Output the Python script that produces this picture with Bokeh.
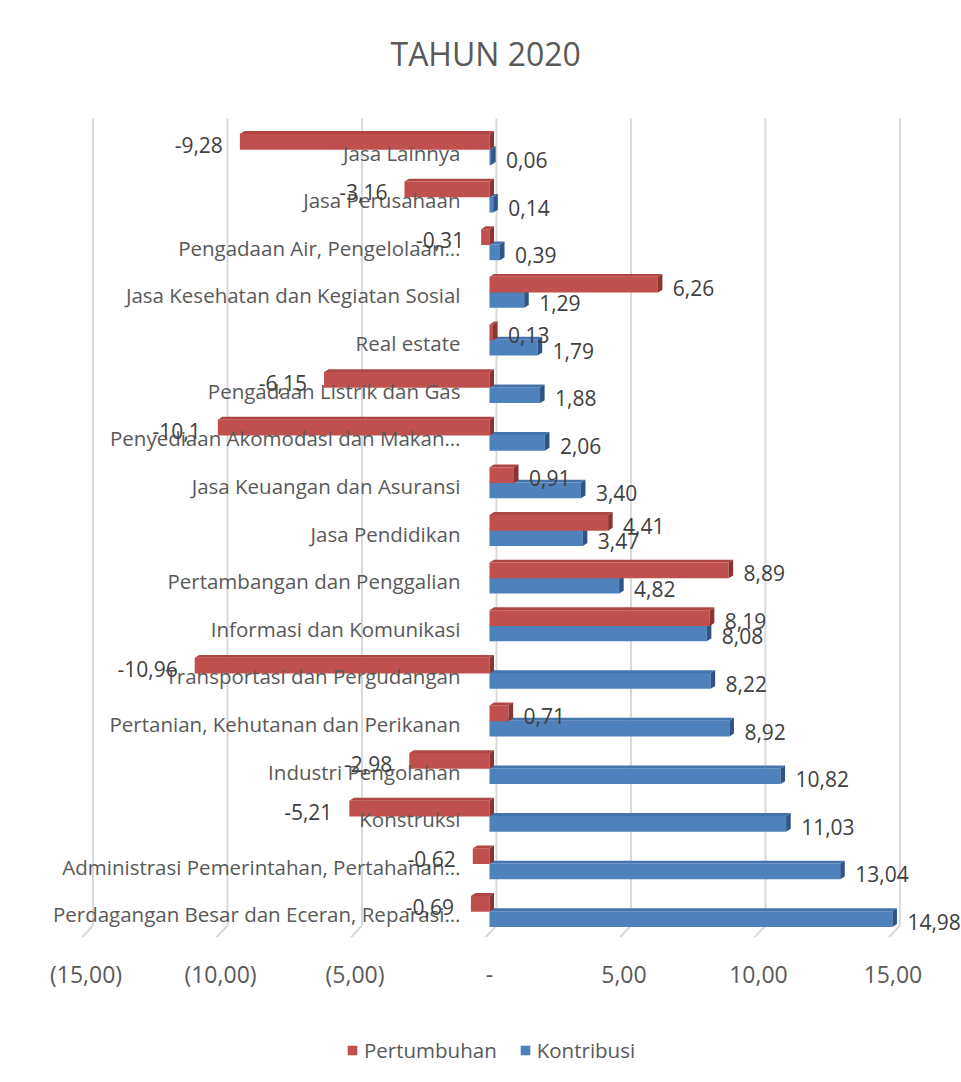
from bokeh.plotting import figure
from bokeh.layouts import column
from bokeh.models import ColumnDataSource, Range1d, Legend, LegendItem, FixedTicker
from bokeh.core.properties import value
from bokeh.embed import file_html
from bokeh.resources import INLINE

# ---------------- data (top to bottom, as in the chart) ----------------
categories = [
    "Jasa Lainnya",
    "Jasa Perusahaan",
    "Pengadaan Air, Pengelolaan…",
    "Jasa Kesehatan dan Kegiatan Sosial",
    "Real estate",
    "Pengadaan Listrik dan Gas",
    "Penyediaan Akomodasi dan Makan…",
    "Jasa Keuangan dan Asuransi",
    "Jasa Pendidikan",
    "Pertambangan dan Penggalian",
    "Informasi dan Komunikasi",
    "Transportasi dan Pergudangan",
    "Pertanian, Kehutanan dan Perikanan",
    "Industri Pengolahan",
    "Konstruksi",
    "Administrasi Pemerintahan, Pertahanan…",
    "Perdagangan Besar dan Eceran, Reparasi…",
]
pertumbuhan = [-9.28, -3.16, -0.31, 6.26, 0.13, -6.15, -10.1, 0.91, 4.41, 8.89,
               8.19, -10.96, 0.71, -2.98, -5.21, -0.62, -0.69]
kontribusi = [0.06, 0.14, 0.39, 1.29, 1.79, 1.88, 2.06, 3.40, 3.47, 4.82,
              8.08, 8.22, 8.92, 10.82, 11.03, 13.04, 14.98]
x_ticks = [-15, -10, -5, 0, 5, 10, 15]
x_tick_labels = ["(15,00)", "(10,00)", "(5,00)", "-", "5,00", "10,00", "15,00"]
series_names = ["Pertumbuhan", "Kontribusi"]

RED, RED_TOP, RED_END = "#c0504d", "#b04643", "#8a3532"
BLUE, BLUE_TOP, BLUE_END = "#4f81bd", "#4574ad", "#2f5486"
TXT = "#595959"
LBL = "#404040"
FONT = "Open Sans"

n = len(categories)
ypos = [n - 1 - i for i in range(n)]

p = figure(frame_width=961, frame_height=849, output_backend="svg",
           toolbar_location=None,
           x_range=Range1d(-18.18, 17.55), y_range=Range1d(-0.588, 17.24),
           min_border_left=0, min_border_right=0, min_border_top=88,
           min_border_bottom=90, outline_line_color=None,
           title="TAHUN 2020")
p.title.align = "left"
p.title.offset = 390
p.title.text_font = FONT
p.title.text_font_size = "32px"
p.title.text_font_style = "normal"
p.title.text_color = TXT
p.title.standoff = 28
p.xgrid.visible = False
p.ygrid.visible = False
p.yaxis.visible = False

# axis
p.xaxis.ticker = FixedTicker(ticks=x_ticks)
p.xaxis.major_label_overrides = {t: l for t, l in zip(x_ticks, x_tick_labels)}
p.xaxis.axis_line_color = None
p.xaxis.major_tick_line_color = None
p.xaxis.minor_tick_line_color = None
p.xaxis.major_tick_out = 0
p.xaxis.major_tick_in = 0
p.xaxis.major_label_standoff = 20
p.xaxis.major_label_text_font = FONT
p.xaxis.major_label_text_font_size = "23px"
p.xaxis.major_label_text_color = TXT

# back-wall gridlines with a 3D floor stub
dx_back = 0.26
g_top, g_bot, g_floor = 16.61, -0.336, -0.588
p.segment(x0=[t + dx_back for t in x_ticks], y0=[g_top] * len(x_ticks),
          x1=[t + dx_back for t in x_ticks], y1=[g_bot] * len(x_ticks),
          line_color="#d9d9d9", line_width=2)
p.segment(x0=[t + dx_back for t in x_ticks], y0=[g_bot] * len(x_ticks),
          x1=[t - 0.15 for t in x_ticks], y1=[g_floor] * len(x_ticks),
          line_color="#d9d9d9", line_width=2)

bh = 0.33
off = 0.16
shift = -0.04
d3x, d3y = 0.17, 0.06


def bars(vals, yoff, front, top, end):
    ys = [y + yoff + shift for y in ypos]
    lefts = [min(0, v) for v in vals]
    rights = [max(0, v) for v in vals]
    src = ColumnDataSource(dict(y=ys, left=lefts, right=rights))
    r = p.hbar(y="y", left="left", right="right", height=bh, source=src,
               fill_color=front, line_color=None)
    tx, ty, ex, ey = [], [], [], []
    for y, L, R in zip(ys, lefts, rights):
        yt, yb = y + bh / 2, y - bh / 2
        tx.append([L, R, R + d3x, L + d3x])
        ty.append([yt, yt, yt + d3y, yt + d3y])
        ex.append([R, R + d3x, R + d3x, R])
        ey.append([yb, yb + d3y, yt + d3y, yt])
    p.patches(xs=tx, ys=ty, fill_color=top, line_color=None)
    p.patches(xs=ex, ys=ey, fill_color=end, line_color=None)
    return r, ys


r_blue, y_blue = bars(kontribusi, -off, BLUE, BLUE_TOP, BLUE_END)
r_red, y_red = bars(pertumbuhan, off, RED, RED_TOP, RED_END)

# category labels (drawn inside the plot like the original)
p.text(x=[0] * n, y=ypos, text=categories, text_font=value(FONT),
       text_font_size=value("20.5px"), text_color=TXT, text_align="right",
       text_baseline="middle", x_offset=-29, y_offset=5)

# data labels
red_txt = [("%g" % v).replace(".", ",") for v in pertumbuhan]
blue_txt = [("%.2f" % v).replace(".", ",") for v in kontribusi]
pos_r = [i for i, v in enumerate(pertumbuhan) if v >= 0]
neg_r = [i for i, v in enumerate(pertumbuhan) if v < 0]
p.text(x=[pertumbuhan[i] for i in pos_r], y=[y_red[i] for i in pos_r],
       text=[red_txt[i] for i in pos_r], text_font=value(FONT),
       text_font_size=value("21px"), text_color=LBL, text_align="left",
       text_baseline="middle", x_offset=15, y_offset=3)
p.text(x=[pertumbuhan[i] for i in neg_r], y=[y_red[i] for i in neg_r],
       text=[red_txt[i] for i in neg_r], text_font=value(FONT),
       text_font_size=value("21px"), text_color=LBL, text_align="right",
       text_baseline="middle", x_offset=-17, y_offset=3)
p.text(x=kontribusi, y=y_blue, text=blue_txt, text_font=value(FONT),
       text_font_size=value("21px"), text_color=LBL, text_align="left",
       text_baseline="middle", x_offset=15, y_offset=3)

# ---------------- legend strip ----------------
p2 = figure(width=961, height=46, output_backend="svg", toolbar_location=None,
            x_range=Range1d(0, 1), y_range=Range1d(0, 1),
            min_border=0, outline_line_color=None)
p2.axis.visible = False
p2.grid.visible = False
# swatch renderers (kept outside the visible range, only their legend glyphs show)
lr = p2.quad(left=[-3], right=[-2], bottom=[-3], top=[-2], fill_color=RED, line_color=None)
lb = p2.quad(left=[-3], right=[-2], bottom=[-3], top=[-2], fill_color=BLUE, line_color=None)
legend = Legend(items=[LegendItem(label=series_names[0], renderers=[lr]),
                       LegendItem(label=series_names[1], renderers=[lb])],
                orientation="horizontal", location=(346, 9))
legend.label_text_font = FONT
legend.label_text_font_size = "20.5px"
legend.label_text_color = TXT
legend.glyph_width = 12
legend.glyph_height = 12
legend.label_standoff = 6
legend.spacing = 22
legend.border_line_color = None
legend.background_fill_alpha = 0
legend.margin = 0
legend.padding = 0
p2.add_layout(legend)

layout = column(p, p2, spacing=0)
open("out.html", "w").write(file_html(layout, INLINE))
